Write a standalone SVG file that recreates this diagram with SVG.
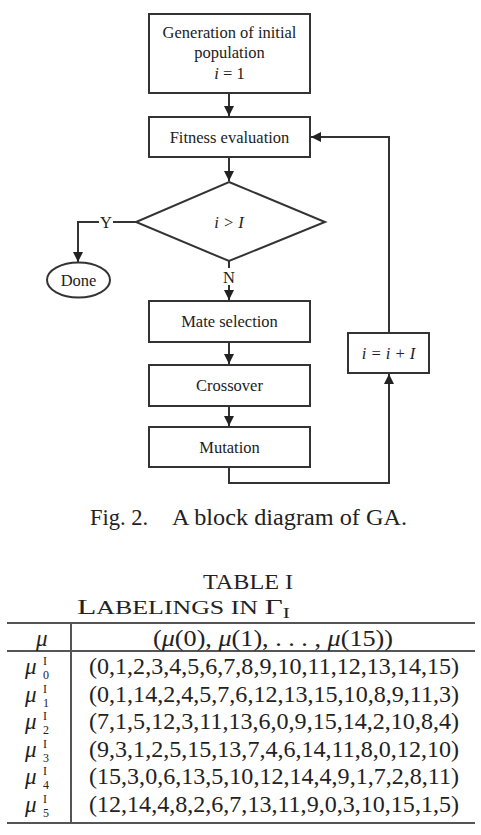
<svg xmlns="http://www.w3.org/2000/svg" width="481" height="835" viewBox="0 0 481 835">
<style>
.box{fill:#fff;stroke:#333;stroke-width:2}
.ln{fill:none;stroke:#333;stroke-width:2}
.t{font-family:"Liberation Serif","Times New Roman",serif;fill:#222;font-size:16.5px;text-anchor:middle}
.it{font-style:italic}
.cap{font-family:"Liberation Serif","Times New Roman",serif;fill:#222}
.rule{stroke:#555;stroke-width:2}
.mu{font-size:23px;font-style:italic}
.ss{font-size:12px}
</style>
<defs>
<marker id="ah" viewBox="0 0 10 10" refX="10" refY="5" markerWidth="5" markerHeight="5" orient="auto" markerUnits="strokeWidth">
<path d="M0,0 L10,5 L0,10 z" fill="#222"/>
</marker>
</defs>
<g id="connectors">
<line class="ln" x1="229" y1="93" x2="229" y2="116" marker-end="url(#ah)"/>
<line class="ln" x1="229" y1="157" x2="229" y2="181" marker-end="url(#ah)"/>
<polyline class="ln" points="136,222 113,222"/>
<polyline class="ln" points="99,222 78,222 78,262" marker-end="url(#ah)"/>
<text class="t" x="106" y="228">Y</text>
<line class="ln" x1="229" y1="261" x2="229" y2="268"/>
<text class="t" x="229" y="283">N</text>
<line class="ln" x1="229" y1="285" x2="229" y2="300" marker-end="url(#ah)"/>
<line class="ln" x1="229" y1="342" x2="229" y2="364" marker-end="url(#ah)"/>
<line class="ln" x1="229" y1="406" x2="229" y2="426" marker-end="url(#ah)"/>
<polyline class="ln" points="229,467 229,483 389,483 389,374" marker-end="url(#ah)"/>
<polyline class="ln" points="389,333 389,137 311,137" marker-end="url(#ah)"/>
</g>
<g id="init">
<rect class="box" x="149" y="14" width="161" height="79"/>
<text class="t" x="229.5" y="38">Generation of initial</text>
<text class="t" x="229.5" y="58">population</text>
<text class="t" x="229.5" y="79"><tspan class="it">i</tspan> = 1</text>
</g>
<g id="fitness">
<rect class="box" x="149" y="117" width="161" height="40"/>
<text class="t" x="229.5" y="143">Fitness evaluation</text>
</g>
<g id="decision">
<polygon class="box" points="229,182 325,222 229,261 136,222"/>
<text class="t it" x="229" y="228">i &gt; I</text>
</g>
<g id="done">
<ellipse class="box" cx="78.5" cy="280" rx="31.5" ry="17.5"/>
<text class="t" x="78.5" y="286">Done</text>
</g>
<g id="mate">
<rect class="box" x="149" y="301" width="161" height="41"/>
<text class="t" x="229.5" y="327">Mate selection</text>
</g>
<g id="crossover">
<rect class="box" x="149" y="365" width="161" height="41"/>
<text class="t" x="229.5" y="391">Crossover</text>
</g>
<g id="mutation">
<rect class="box" x="149" y="427" width="161" height="40"/>
<text class="t" x="229.5" y="453">Mutation</text>
</g>
<g id="increment">
<rect class="box" x="348" y="333" width="81" height="40"/>
<text class="t it" x="388.5" y="359">i = i + I</text>
</g>
<g id="caption">
<text class="cap" x="90" y="525" font-size="22.5">Fig. 2.</text>
<text class="cap" x="172" y="525" font-size="22.5" textLength="235" lengthAdjust="spacingAndGlyphs">A block diagram of GA.</text>
</g>
<g id="table">
<text class="cap" x="248" y="589" font-size="21.5" text-anchor="middle" textLength="90" lengthAdjust="spacingAndGlyphs">TABLE I</text>
<text class="cap" x="77" y="614" font-size="22" textLength="213" lengthAdjust="spacingAndGlyphs">L<tspan font-size="18">ABELINGS IN </tspan>Γ<tspan font-size="15" dy="4">I</tspan></text>
<line class="rule" x1="7" y1="623" x2="475" y2="623"/>
<line class="rule" x1="7" y1="651" x2="475" y2="651"/>
<line class="rule" x1="7" y1="823" x2="475" y2="823"/>
<line class="rule" x1="71" y1="623" x2="71" y2="823"/>
<text class="cap it" x="36" y="646" font-size="23">μ</text>
<text class="cap" x="153" y="646" font-size="23" textLength="240" lengthAdjust="spacingAndGlyphs">(<tspan font-style="italic">μ</tspan>(0), <tspan font-style="italic">μ</tspan>(1), . . . , <tspan font-style="italic">μ</tspan>(15))</text>
<g class="cap">
<text class="mu" x="25" y="674">μ</text><text class="ss" x="43" y="665">I</text><text class="ss" x="43" y="679">0</text>
<text class="mu" x="25" y="701.5">μ</text><text class="ss" x="43" y="692.5">I</text><text class="ss" x="43" y="706.5">1</text>
<text class="mu" x="25" y="729">μ</text><text class="ss" x="43" y="720">I</text><text class="ss" x="43" y="734">2</text>
<text class="mu" x="25" y="756.5">μ</text><text class="ss" x="43" y="747.5">I</text><text class="ss" x="43" y="761.5">3</text>
<text class="mu" x="25" y="784">μ</text><text class="ss" x="43" y="775">I</text><text class="ss" x="43" y="789">4</text>
<text class="mu" x="25" y="811.5">μ</text><text class="ss" x="43" y="802.5">I</text><text class="ss" x="43" y="816.5">5</text>
<g font-size="23.5">
<text x="89" y="674" textLength="370" lengthAdjust="spacingAndGlyphs">(0,1,2,3,4,5,6,7,8,9,10,11,12,13,14,15)</text>
<text x="89" y="701.5" textLength="370" lengthAdjust="spacingAndGlyphs">(0,1,14,2,4,5,7,6,12,13,15,10,8,9,11,3)</text>
<text x="89" y="729" textLength="370" lengthAdjust="spacingAndGlyphs">(7,1,5,12,3,11,13,6,0,9,15,14,2,10,8,4)</text>
<text x="89" y="756.5" textLength="370" lengthAdjust="spacingAndGlyphs">(9,3,1,2,5,15,13,7,4,6,14,11,8,0,12,10)</text>
<text x="89" y="784" textLength="370" lengthAdjust="spacingAndGlyphs">(15,3,0,6,13,5,10,12,14,4,9,1,7,2,8,11)</text>
<text x="89" y="811.5" textLength="370" lengthAdjust="spacingAndGlyphs">(12,14,4,8,2,6,7,13,11,9,0,3,10,15,1,5)</text>
</g>
</g>
</g>
</svg>
